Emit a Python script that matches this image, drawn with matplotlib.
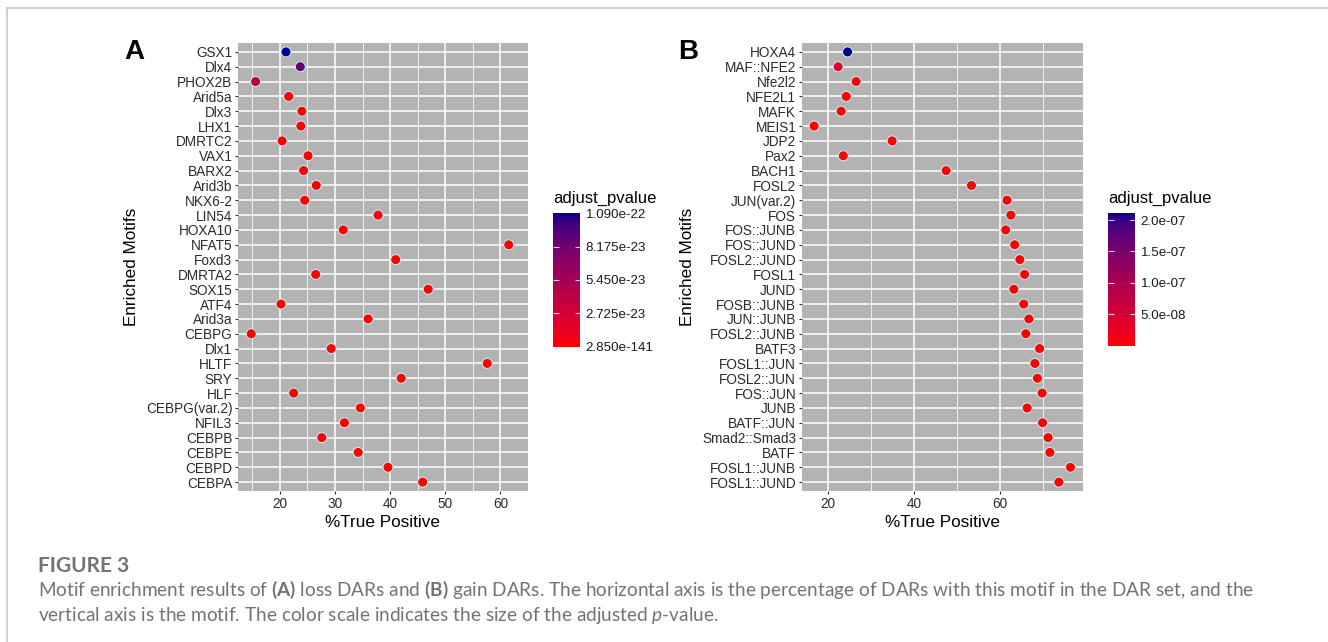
import matplotlib

matplotlib.use("Agg")
import matplotlib.pyplot as plt
import numpy as np
from matplotlib.colors import ListedColormap, Normalize
from matplotlib.lines import Line2D

# ---- data ----
motifs_a = [
    "GSX1", "Dlx4", "PHOX2B", "Arid5a", "Dlx3", "LHX1", "DMRTC2", "VAX1",
    "BARX2", "Arid3b", "NKX6-2", "LIN54", "HOXA10", "NFAT5", "Foxd3",
    "DMRTA2", "SOX15", "ATF4", "Arid3a", "CEBPG", "Dlx1", "HLTF", "SRY",
    "HLF", "CEBPG(var.2)", "NFIL3", "CEBPB", "CEBPE", "CEBPD", "CEBPA",
]
pct_a = [
    21.1, 23.7, 15.6, 21.6, 24.0, 23.8, 20.4, 25.1, 24.3, 26.6, 24.5, 37.8,
    31.5, 61.5, 41.0, 26.5, 46.9, 20.2, 36.0, 14.8, 29.3, 57.6, 42.0, 22.5,
    34.6, 31.7, 27.6, 34.2, 39.6, 45.9,
]
padj_a = [
    1.090e-22, 8.6e-23, 4.3e-23, 2.1e-31, 5.4e-33, 3.2e-35, 1.8e-36, 7.7e-38,
    4.1e-40, 2.3e-42, 9.5e-45, 6.0e-47, 3.3e-49, 1.2e-52, 8.4e-55, 4.6e-58,
    2.0e-61, 7.2e-65, 3.9e-69, 1.1e-73, 5.6e-79, 2.4e-85, 9.8e-92, 3.7e-99,
    1.5e-107, 6.3e-116, 2.2e-124, 8.1e-131, 3.4e-136, 2.850e-141,
]
cbar_ticks_a = [2.850e-141, 2.725e-23, 5.450e-23, 8.175e-23, 1.090e-22]
cbar_labels_a = ["2.850e-141", "2.725e-23", "5.450e-23", "8.175e-23", "1.090e-22"]

motifs_b = [
    "HOXA4", "MAF::NFE2", "Nfe2l2", "NFE2L1", "MAFK", "MEIS1", "JDP2", "Pax2",
    "BACH1", "FOSL2", "JUN(var.2)", "FOS", "FOS::JUNB", "FOS::JUND",
    "FOSL2::JUND", "FOSL1", "JUND", "FOSB::JUNB", "JUN::JUNB", "FOSL2::JUNB",
    "BATF3", "FOSL1::JUN", "FOSL2::JUN", "FOS::JUN", "JUNB", "BATF::JUN",
    "Smad2::Smad3", "BATF", "FOSL1::JUNB", "FOSL1::JUND",
]
pct_b = [
    24.5, 22.3, 26.5, 24.2, 23.0, 16.7, 34.9, 23.5, 47.5, 53.4, 61.7, 62.6,
    61.4, 63.5, 64.7, 65.8, 63.3, 65.6, 66.8, 66.1, 69.3, 68.2, 68.8, 69.9,
    66.4, 70.0, 71.3, 71.7, 76.5, 73.8,
]
padj_b = [
    2.117e-07, 3.4e-08, 2.6e-09, 8.1e-10, 4.4e-10, 1.9e-10, 6.2e-11, 3.0e-11,
    9.7e-13, 2.5e-14, 8.3e-16, 1.6e-17, 4.9e-19, 1.3e-20, 3.8e-22, 7.5e-24,
    2.2e-25, 6.1e-27, 1.4e-28, 3.9e-30, 8.8e-32, 2.1e-33, 5.7e-35, 1.2e-36,
    3.3e-38, 7.9e-40, 1.8e-41, 4.5e-43, 9.2e-45, 2.0e-46,
]
cbar_ticks_b = [5.0e-08, 1.0e-07, 1.5e-07, 2.0e-07]
cbar_labels_b = ["5.0e-08", "1.0e-07", "1.5e-07", "2.0e-07"]

W, H = 1328, 642
SANS = ["Liberation Sans", "DejaVu Sans"]
plt.rcParams["font.family"] = SANS
plt.rcParams["mathtext.fontset"] = "custom"
plt.rcParams["mathtext.rm"] = "Lato"
plt.rcParams["mathtext.bf"] = "Lato:bold"
plt.rcParams["mathtext.it"] = "Lato:italic"


def box(x0, y0, x1, y1):
    # pixel box (top-left origin) -> figure fraction rect
    return [x0 / W, 1 - y1 / H, (x1 - x0) / W, (y1 - y0) / H]


# ggplot-style red -> darkblue gradient, interpolated in CIELAB
M = np.array([[0.4124, 0.3576, 0.1805], [0.2126, 0.7152, 0.0722], [0.0193, 0.1192, 0.9505]])
WHITE = np.array([0.95047, 1.0, 1.08883])


def to_lab(rgb):
    c = np.asarray(rgb, float)
    lin = np.where(c <= 0.04045, c / 12.92, ((c + 0.055) / 1.055) ** 2.4)
    xyz = M @ lin / WHITE
    f = np.where(xyz > 0.008856, np.cbrt(xyz), 7.787 * xyz + 16 / 116)
    return np.array([116 * f[1] - 16, 500 * (f[0] - f[1]), 200 * (f[1] - f[2])])


def from_lab(lab):
    fy = (lab[0] + 16) / 116
    f = np.array([fy + lab[1] / 500, fy, fy - lab[2] / 200])
    xyz = np.where(f ** 3 > 0.008856, f ** 3, (f - 16 / 116) / 7.787) * WHITE
    lin = np.clip(np.linalg.inv(M) @ xyz, 0, 1)
    return np.clip(np.where(lin <= 0.0031308, 12.92 * lin, 1.055 * lin ** (1 / 2.4) - 0.055), 0, 1)


lab_lo, lab_hi = to_lab([1, 0, 0]), to_lab([0, 0, 139 / 255])
cmap = ListedColormap([from_lab(lab_lo + t * (lab_hi - lab_lo)) for t in np.linspace(0, 1, 256)])

fig = plt.figure(figsize=(W / 100, H / 100), dpi=100)

# frame lines of the figure page
fig.add_artist(Line2D([6.7 / W, 1], [1 - 8.3 / H, 1 - 8.3 / H], color="#c8c8c8", lw=1.2))
fig.add_artist(Line2D([6.7 / W, 6.7 / W], [0, 1 - 8.3 / H], color="#c8c8c8", lw=1.2))


def panel(rect, cbar_rect, motifs, pct, padj, vmax, xlim, major, minor,
          cticks, clabels, inner_ticks, letter, letter_x, ylab_x, ctitle_x):
    ax = fig.add_axes(box(*rect))
    y = np.arange(len(motifs))
    norm = Normalize(vmin=min(padj), vmax=vmax)
    ax.set_facecolor("#b3b3b3")
    sc = ax.scatter(pct, y, c=padj, cmap=cmap, norm=norm, s=52,
                    edgecolors="#c6f3f3", linewidths=0.7, zorder=3)
    ax.set_xlim(*xlim)
    ax.set_ylim(len(motifs) - 1 + 0.6, -0.6)
    ax.set_xticks(major)
    ax.set_xticks(minor, minor=True)
    ax.set_yticks(y, motifs)
    ax.grid(which="major", color="white", lw=1.1)
    ax.grid(which="minor", axis="x", color="white", lw=0.55)
    ax.set_axisbelow(True)
    for s in ax.spines.values():
        s.set_visible(False)
    ax.tick_params(which="major", length=2.5, width=0.8, color="#333333",
                   labelsize=9.8, labelcolor="#2b2b2b", pad=1.5)
    ax.tick_params(which="minor", length=0)

    cx = (rect[0] + rect[2]) / 2
    fig.text(cx / W, 1 - 522.7 / H, "%True Positive", ha="center", va="center", fontsize=12.3)
    fig.text(ylab_x / W, 1 - 267 / H, "Enriched Motifs", rotation=90,
             ha="center", va="center", fontsize=12.3)
    fig.text(letter_x / W, 1 - 52 / H, letter, ha="center", va="center",
             fontsize=20, fontweight="bold")

    cax = fig.add_axes(box(*cbar_rect))
    cb = fig.colorbar(sc, cax=cax)
    cb.outline.set_visible(False)
    cb.set_ticks(cticks, labels=clabels)
    cax.tick_params(length=0, pad=4, labelsize=9.6, labelcolor="#1a1a1a")
    cax.hlines(inner_ticks, 0, 0.2, colors="white", lw=0.8, alpha=0.8)
    cax.hlines(inner_ticks, 0.8, 1, colors="white", lw=0.8, alpha=0.8)
    fig.text(ctitle_x / W, 1 - 198 / H, "adjust_pvalue", ha="left", va="center", fontsize=12)


panel((238, 43, 528, 491), (553.3, 213.3, 580, 346.7), motifs_a, pct_a, padj_a,
      1.090e-22, (12.4, 64.0), [20, 30, 40, 50, 60], [15, 25, 35, 45, 55, 65],
      cbar_ticks_a, cbar_labels_a, cbar_ticks_a[1:4], "A", 134, 131.7, 553)
panel((801.7, 43, 1083.3, 491), (1108.3, 212.7, 1135, 345.7), motifs_b, pct_b, padj_b,
      2.117e-07, (13.8, 79.5), [20, 40, 60], [30, 50, 70],
      cbar_ticks_b, cbar_labels_b, cbar_ticks_b, "B", 688.5, 688, 1108)

# caption
CAP = ["Lato", "DejaVu Sans"]
fig.text(38 / W, 1 - 566 / H, "FIGURE 3", family=CAP, fontsize=15, fontweight="bold",
         color="#737373", ha="left", va="center")
fig.text(38 / W, 1 - 590 / H,
         r"Motif enrichment results of $\mathbf{(A)}$ loss DARs and $\mathbf{(B)}$ gain DARs. "
         "The horizontal axis is the percentage of DARs with this motif in the DAR set, and the",
         family=CAP, fontsize=13.7, color="#737373", ha="left", va="center")
fig.text(38 / W, 1 - 615 / H,
         r"vertical axis is the motif. The color scale indicates the size of the adjusted $\mathit{p}$-value.",
         family=CAP, fontsize=13.7, color="#737373", ha="left", va="center")

fig.savefig("out.png", dpi=100)
